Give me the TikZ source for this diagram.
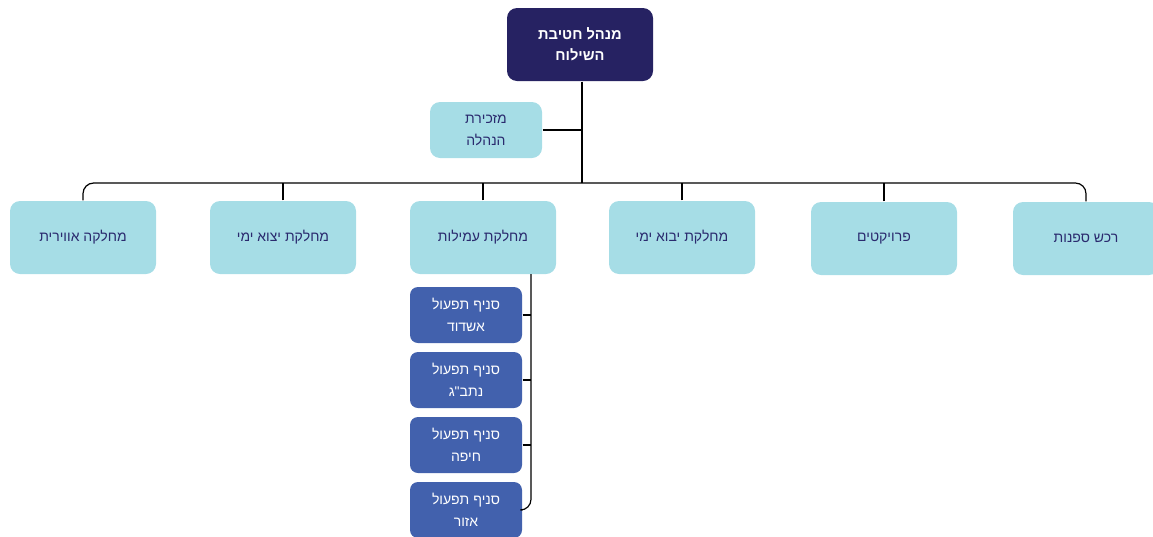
\documentclass[tikz,border=0pt]{standalone}
\usepackage{fontspec}
\newfontfamily\hebfont[Script=Hebrew]{Liberation Sans}
\TeXXeTstate=1
\newcommand{\heb}[1]{{\hebfont\beginR #1\endR}}

\definecolor{navyhead}{RGB}{38,34,98}
\definecolor{lightcyan}{RGB}{166,221,230}
\definecolor{branchblue}{RGB}{66,97,173}
\definecolor{navytext}{RGB}{42,42,110}

\tikzset{every picture/.style={line width=0.9pt}}
\tikzset{
	headbox/.style={draw=none, fill=navyhead, rounded corners=7.5pt, text=white, font=\fontsize{11}{16}\selectfont\bfseries, align=center, minimum width=109.5pt, minimum height=54.75pt, inner sep=0pt},
	deptbox/.style={draw=none, fill=lightcyan, rounded corners=7.5pt, text=navytext, font=\fontsize{10.5}{16.5}\selectfont, align=center, minimum width=109.5pt, minimum height=54.75pt, inner sep=0pt},
	secbox/.style={deptbox, minimum width=84pt, minimum height=42pt},
	branchbox/.style={draw=none, fill=branchblue, rounded corners=6pt, text=white, font=\fontsize{10.5}{16.5}\selectfont, align=center, minimum width=84pt, minimum height=42pt, inner sep=0pt},
}

\begin{document}
\begin{tikzpicture}[x=0.75pt,y=0.75pt,yscale=-1,xscale=1]
	\useasboundingbox (0,0) rectangle (1153,536);

	% Head Node
	\node[headbox] (mgr) at (580,44.5) {\heb{מנהל חטיבת}\\\heb{השילוח}};
	% Secretary Node
	\node[secbox] (sec) at (486,130) {\heb{מזכירת}\\\heb{הנהלה}};

	% Department Nodes
	\node[deptbox] (avirit) at (83,237.5) {\heb{מחלקה אווירית}};
	\node[deptbox] (yetzu) at (283,237.5) {\heb{מחלקת יצוא ימי}};
	\node[deptbox] (amilot) at (483,237.5) {\heb{מחלקת עמילות}};
	\node[deptbox] (yevu) at (682,237.5) {\heb{מחלקת יבוא ימי}};
	\node[deptbox] (proyektim) at (884,238.5) {\heb{פרויקטים}};
	\node[deptbox] (rechesh) at (1086,238.5) {\heb{רכש ספנות}};

	% Branch Nodes
	\node[branchbox] (ashdod) at (466,315) {\heb{סניף תפעול}\\\heb{אשדוד}};
	\node[branchbox] (natbag) at (466,380) {\heb{סניף תפעול}\\\heb{נתב"ג}};
	\node[branchbox] (haifa) at (466,445) {\heb{סניף תפעול}\\\heb{חיפה}};
	\node[branchbox] (azor) at (466,510) {\heb{סניף תפעול}\\\heb{אזור}};

	%Straight Lines
	\coordinate (bus) at (582,183);
	\coordinate (spine) at (531,274);
	\draw (mgr.south -| bus) -- (bus);
	\draw (sec.east) -- (sec.east -| bus);
	\draw[rounded corners=8] (avirit.north) |- (bus) -| (rechesh.north);
	\foreach \d in {yetzu,amilot,yevu,proyektim}
		\draw (\d.north) -- (\d.north |- bus);
	\draw[rounded corners=8] (spine) |- (azor.east);
	\foreach \b in {ashdod,natbag,haifa}
		\draw (\b.east) -- (\b.east -| spine);

\end{tikzpicture}
\end{document}
